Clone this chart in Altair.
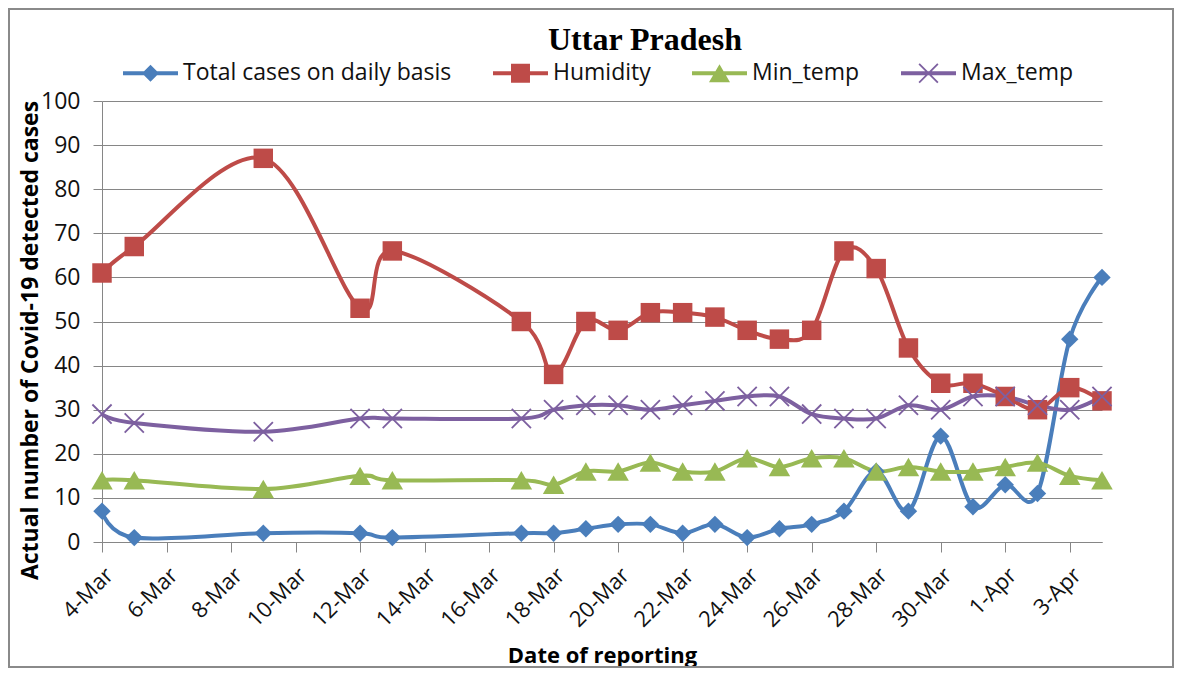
import altair as alt
import pandas as pd

# ---------------- data ----------------
dates = ["2020-03-04", "2020-03-05", "2020-03-09", "2020-03-12", "2020-03-13",
         "2020-03-17", "2020-03-18", "2020-03-19", "2020-03-20", "2020-03-21",
         "2020-03-22", "2020-03-23", "2020-03-24", "2020-03-25", "2020-03-26",
         "2020-03-27", "2020-03-28", "2020-03-29", "2020-03-30", "2020-03-31",
         "2020-04-01", "2020-04-02", "2020-04-03", "2020-04-04"]
total_cases = [7, 1, 2, 2, 1, 2, 2, 3, 4, 4, 2, 4, 1, 3, 4, 7, 16, 7, 24, 8, 13, 11, 46, 60]
humidity = [61, 67, 87, 53, 66, 50, 38, 50, 48, 52, 52, 51, 48, 46, 48, 66, 62, 44, 36, 36, 33, 30, 35, 32]
min_temp = [14, 14, 12, 15, 14, 14, 13, 16, 16, 18, 16, 16, 19, 17, 19, 19, 16, 17, 16, 16, 17, 18, 15, 14]
max_temp = [29, 27, 25, 28, 28, 28, 30, 31, 31, 30, 31, 32, 33, 33, 29, 28, 28, 31, 30, 33, 33, 31, 30, 33]

series_names = ["Total cases on daily basis", "Humidity", "Min_temp", "Max_temp"]
tick_dates = ["2020-03-04", "2020-03-06", "2020-03-08", "2020-03-10", "2020-03-12",
              "2020-03-14", "2020-03-16", "2020-03-18", "2020-03-20", "2020-03-22",
              "2020-03-24", "2020-03-26", "2020-03-28", "2020-03-30", "2020-04-01",
              "2020-04-03"]
x_domain = ["2020-03-04", "2020-04-04"]
y_ticks = [0, 10, 20, 30, 40, 50, 60, 70, 80, 90, 100]

# ---------------- styles ----------------
series_colors = ["#4A7EBB", "#BE4B48", "#98B954", "#7D60A0"]
MARK_SHAPES = [
    "M0,-0.85L0.85,0L0,0.85L-0.85,0Z",
    "M-0.95,-0.95L0.95,-0.95L0.95,0.95L-0.95,0.95Z",
    "M0,-0.9L1.05,0.9L-1.05,0.9Z",
    "M-1,-0.873L-0.873,-1L1,0.873L0.873,1ZM0.873,-1L1,-0.873L-0.873,1L-1,0.873Z",
]
LINE = "M-1,-0.073L1,-0.073L1,0.073L-1,0.073Z"
LEGEND_SHAPES = [
    LINE + "M0,-0.309L0.309,0L0,0.309L-0.309,0Z",
    LINE + "M-0.345,-0.345L0.345,-0.345L0.345,0.345L-0.345,0.345Z",
    LINE + "M0,-0.327L0.382,0.327L-0.382,0.327Z",
    LINE + "M-0.364,-0.318L-0.318,-0.364L0.364,0.318L0.318,0.364Z"
           "M0.318,-0.364L0.364,-0.318L-0.318,0.364L-0.364,0.318Z",
]
FONT = "Open Sans"


def dt(s):
    y, m, d = (int(p) for p in s.split("-"))
    return alt.DateTime(year=y, month=m, date=d, utc=True)


rows = []
for name, vals in zip(series_names, [total_cases, humidity, min_temp, max_temp]):
    for d, v in zip(dates, vals):
        rows.append({"date": d, "value": v, "series": name})
df = pd.DataFrame(rows)

x_enc = alt.X(
    "date:T",
    scale=alt.Scale(type="utc", domain=[dt(d) for d in x_domain], nice=False),
    axis=alt.Axis(
        values=[dt(d) for d in tick_dates], format="%-d-%b", labelAngle=-45,
        labelAlign="right", labelBaseline="top",
        labelOverlap=False, labelFontSize=22,
        grid=False, tickSize=10, labelPadding=12, title="Date of reporting",
        titleY=120, titleBaseline="alphabetic", titleFontSize=22, titleFontWeight="bold",
    ),
)
y_enc = alt.Y(
    "value:Q",
    scale=alt.Scale(domain=[0, 100], nice=False),
    axis=alt.Axis(
        values=y_ticks, grid=True, tickSize=9, labelPadding=13,
        title="Actual number of Covid-19 detected cases",
        titleX=-65, titleY=239, titleAngle=270, titleBaseline="alphabetic",
        titleAlign="center", titleFontSize=23, titleFontWeight="bold",
    ),
)
color_scale = alt.Scale(domain=series_names, range=series_colors)

frame = alt.Chart(alt.Data(values=[{"k": 1}])).mark_rect(
    filled=False, stroke="#8a8a8a", strokeWidth=2
).encode(
    x=alt.value(-93), x2=alt.value(1071), y=alt.value(-92), y2=alt.value(566)
)

lines = alt.Chart(df).mark_line(interpolate="cardinal", strokeWidth=4).encode(
    x=x_enc, y=y_enc,
    color=alt.Color("series:N", scale=color_scale, legend=None),
)

points = alt.Chart(df).mark_point(filled=True, opacity=1, size=420).encode(
    x=x_enc, y=y_enc,
    color=alt.Color("series:N", scale=color_scale, legend=None),
    shape=alt.Shape("series:N", scale=alt.Scale(domain=series_names, range=MARK_SHAPES), legend=None),
)

legend_layer = alt.Chart(df).transform_filter("false").mark_point(
    filled=True, opacity=1, size=3025
).encode(
    x=x_enc, y=y_enc,
    color=alt.Color("series:N", scale=color_scale, title=None),
    shape=alt.Shape("series:N", scale=alt.Scale(domain=series_names, range=LEGEND_SHAPES), title=None),
)

chart = alt.layer(frame, lines, points, legend_layer).resolve_scale(
    color="independent", shape="independent"
).properties(
    width=1000, height=441,
    autosize=alt.AutoSizeParams(type="none"),
    padding={"left": 94, "top": 93, "right": 72, "bottom": 126},
    title=alt.Title("Uttar Pradesh", font="Liberation Serif", fontSize=32,
                    fontWeight="bold", color="#000000", anchor="middle",
                    baseline="alphabetic", offset=-34, dx=43, dy=40),
).configure_view(stroke=None).configure_axis(
    labelFont=FONT, labelFontSize=23, labelColor="#111111",
    titleFont=FONT, titleColor="#000000",
    gridColor="#868686", domainColor="#868686", tickColor="#868686",
    gridWidth=1, domainWidth=1, tickWidth=1,
).configure_legend(
    orient="none", legendX=21, legendY=-55.5, direction="horizontal", columns=4,
    symbolSize=3025, symbolStrokeWidth=0, labelFont=FONT, labelFontSize=23,
    labelColor="#111111", labelLimit=500, columnPadding=41, labelOffset=5,
    padding=0, symbolOffset=0,
)

chart.save("out.html", embed_options={"renderer": "svg", "actions": False})
